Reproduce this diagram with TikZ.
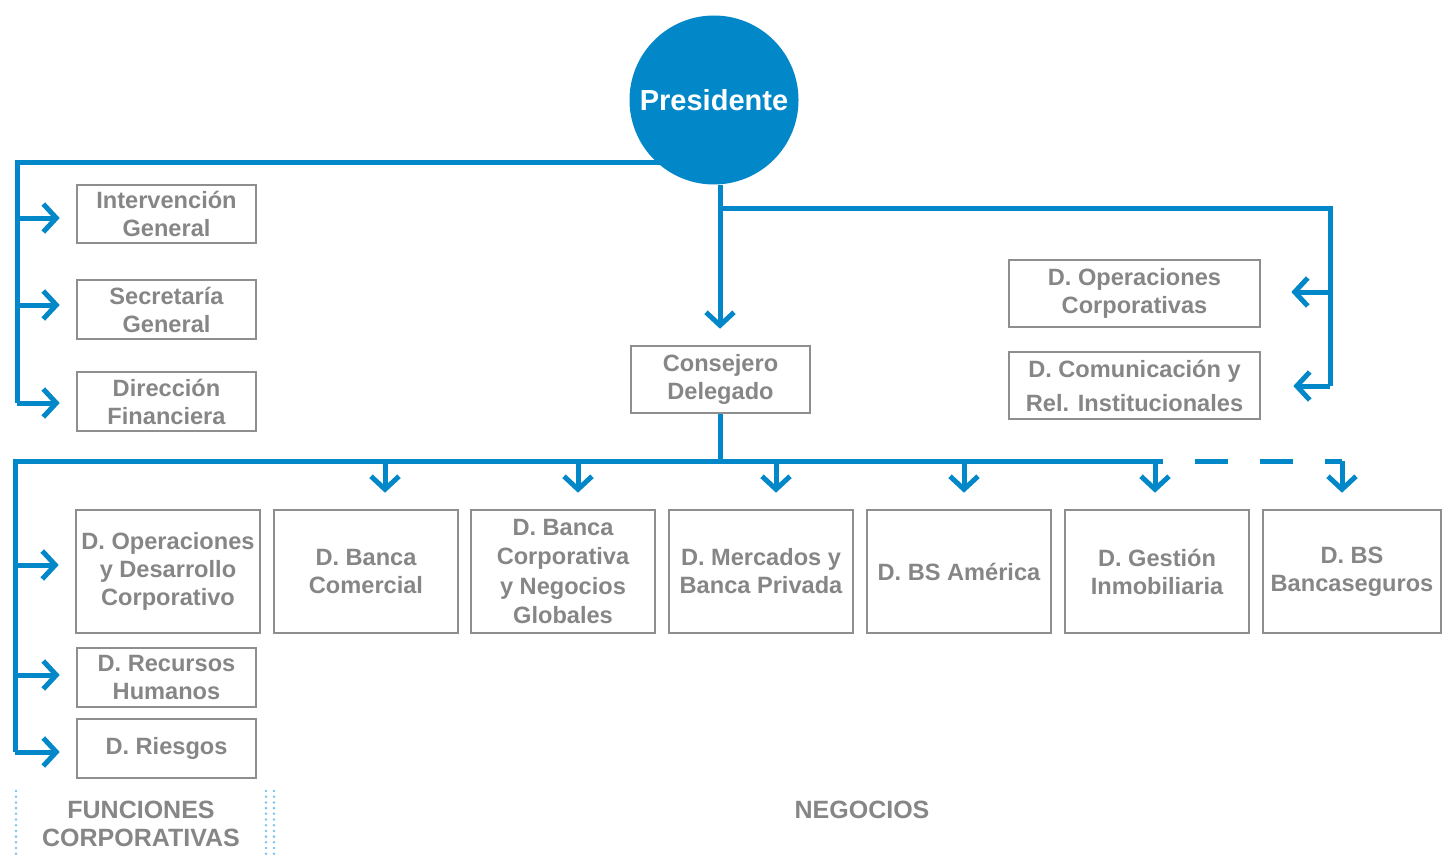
\documentclass[tikz,border=0pt]{standalone}
\usepackage{fontspec}
\setmainfont{Liberation Sans}
\usetikzlibrary{arrows.meta}
\definecolor{cblue}{HTML}{0288C9}
\definecolor{cgray}{HTML}{8E8E8E}
\definecolor{tgray}{HTML}{868686}
\definecolor{dotblue}{HTML}{7CC4EA}
\tikzset{
  box/.style={draw=cgray, line width=1.3pt, inner sep=0pt, text=tgray,
    font=\fontsize{11.8pt}{14pt}\selectfont\bfseries, align=center},
  conn/.style={draw=cblue, line width=2.5pt},
  arr/.style={conn, -{Straight Barb[length=6.5pt, width=14pt, line width=2.5pt]}},
  dots/.style={draw=dotblue, line width=1.4pt, line cap=round, dash pattern=on 0pt off 2.85pt},
  lab/.style={text=tgray, font=\fontsize{12.5pt}{14pt}\selectfont\bfseries, align=center}
}
\begin{document}
\begin{tikzpicture}[x=0.5pt, y=-0.5pt]
\useasboundingbox (0,0) rectangle (1443,856);
% boxes: corner-based
\newcommand{\bx}[6]{\node[box, minimum width=#4*0.5pt-#2*0.5pt, minimum height=#5*0.5pt-#3*0.5pt] (#1) at ({(#2+#4)/2},{(#3+#5)/2}) {#6};}
\bx{ig}{77}{185}{256}{243}{Intervención\\General}
\bx{sg}{77}{280}{256}{339}{Secretaría\\General}
\bx{df}{77}{372}{256}{431}{Dirección\\Financiera}
\bx{cd}{631}{346}{810}{413}{Consejero\\Delegado}
\bx{doc}{1009}{260}{1260}{327}{D. Operaciones\\Corporativas}
\node[box, minimum width=125.5pt, minimum height=33.5pt, font=\fontsize{11.8pt}{17pt}\selectfont\bfseries] (dcr) at (1134.5,385.5) {D. Comunicación y\\Rel. Institucionales};
\bx{odc}{76}{510}{260}{633}{D. Operaciones\\y Desarrollo\\Corporativo}
\bx{bc}{274}{510}{458}{633}{D. Banca\\Comercial}
\node[box, minimum width=92pt, minimum height=61.5pt, font=\fontsize{11.8pt}{14.6pt}\selectfont\bfseries] (bcn) at (563,571.5) {D. Banca\\Corporativa\\y Negocios\\Globales};
\bx{mbp}{669}{510}{853}{633}{D. Mercados y\\Banca Privada}
\bx{bsa}{867}{510}{1051}{633}{D. BS América}
\bx{gi}{1065}{510}{1249}{633}{D. Gestión\\Inmobiliaria}
\bx{bsb}{1263}{510}{1441}{633}{D. BS\\Bancaseguros}
\bx{rh}{77}{648}{256}{707}{D. Recursos\\Humanos}
\bx{ri}{77}{719}{256}{778}{D. Riesgos}
% president
\node[circle, fill=cblue, minimum size=84.5pt, inner sep=0pt, text=white,
  font=\fontsize{14.5pt}{16pt}\selectfont\bfseries] (pres) at (714,100) {Presidente};
% coordinates
\coordinate (tl) at (17,162);
\coordinate (pl) at (672,162);
\coordinate (j1) at (720,208);
\coordinate (tr) at (1330,208);
\coordinate (br) at (1330,386);
\coordinate (h) at (720,461);
\coordinate (hl) at (15,461);
\coordinate (hs) at (1162,461);
\coordinate (hd) at (1342,461);
\coordinate (vl) at (15,752);
% top-left branch
\draw[conn] (pl) -- (tl) -- (17,403);
\draw[arr] (17,218) -- ([xshift=-8pt]ig.west|-17,218);
\draw[arr] (17,305) -- ([xshift=-8pt]sg.west|-17,305);
\draw[arr] (17,403) -- ([xshift=-8pt]df.west|-17,403);
% president to consejero
\draw[conn] (pres.south-|j1) -- (j1);
\draw[arr] (j1) -- ([yshift=8pt]cd.north-|j1);
% right branch
\draw[conn] (j1) -- (tr) -- (br);
\draw[arr] (1330,292) -- ([xshift=15pt]doc.east|-1330,292);
\draw[arr] (br) -- ([xshift=16pt]dcr.east|-br);
% consejero down
\draw[conn] (cd.south-|h) -- (h);
\draw[conn] (hs) -- (hl) -- (vl);
\draw[conn, dash pattern=on 16.5pt off 16pt, dash phase=16pt] (hs) -- (hd);
\draw[arr] (hd) -- ([yshift=8pt]bsb.north-|hd);
\foreach \xx/\nn in {385/bc,578/bcn,776/mbp,964/bsa,1155/gi}{
  \draw[arr] (\xx,461) -- ([yshift=8pt]\nn.north-|\xx,461);
}
\draw[arr] (15,565) -- ([xshift=-8pt]odc.west|-15,565);
\draw[arr] (15,675) -- ([xshift=-8pt]rh.west|-15,675);
\draw[arr] (vl) -- ([xshift=-8pt]ri.west|-vl);
% bottom labels
\draw[dots] (16,791) -- (16,856);
\draw[dots] (266,791) -- (266,856);
\draw[dots] (274,791) -- (274,856);
\node[lab] (fc) at (141,824) {FUNCIONES\\CORPORATIVAS};
\node[lab] (neg) at (862,810) {NEGOCIOS};
\end{tikzpicture}
\end{document}
